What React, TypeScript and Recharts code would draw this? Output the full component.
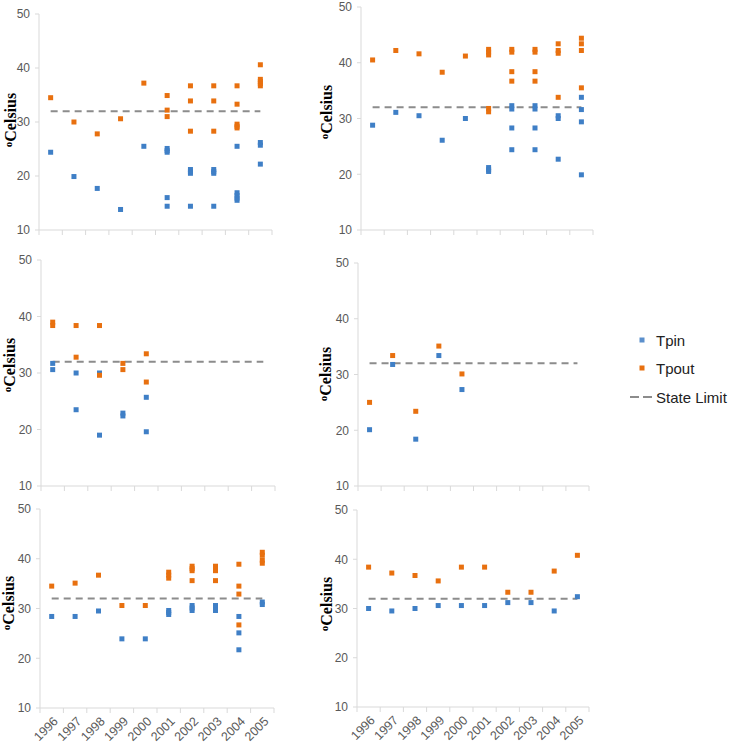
import React from 'react'
import { ScatterChart, Scatter, XAxis, YAxis, ReferenceLine } from 'recharts'

const years = ['1996', '1997', '1998', '1999', '2000', '2001', '2002', '2003', '2004', '2005']
const stateLimit = 32
const yTicks = [10, 20, 30, 40, 50]
const xTicks = [0, 1, 2, 3, 4, 5, 6, 7, 8, 9, 10]

// values per year, several readings per year where the markers stack up
const p1Tpin = [[24.4], [19.9], [17.7], [13.8], [25.5], [25.1, 24.7, 24.4, 16.0, 14.4], [21.2, 20.8, 20.5, 14.4], [21.2, 20.8, 20.5, 14.4], [25.5, 16.9, 16.4, 15.9, 15.5], [26.2, 25.7, 22.2]]
const p1Tpout = [[34.5], [30.0], [27.8], [30.6], [37.2], [34.9, 32.2, 31.0], [36.7, 33.9, 28.3], [36.7, 33.9, 28.3], [36.7, 33.3, 29.6, 29.2, 28.9], [40.6, 37.9, 37.5, 37.1, 36.7]]

const p2Tpin = [[28.8], [31.1], [30.5], [26.1], [30.0], [21.2, 20.8, 20.5], [32.3, 31.7, 28.3, 24.4], [32.3, 31.7, 28.3, 24.4], [30.5, 30.0, 22.7], [33.8, 31.6, 29.4, 19.9]]
const p2Tpout = [[40.5], [42.2], [41.6], [38.3], [41.2], [42.4, 41.9, 41.4, 31.8, 31.2], [42.4, 41.9, 38.4, 36.7], [42.4, 41.9, 38.4, 36.7], [43.4, 42.2, 41.7, 33.8], [44.4, 43.4, 42.2, 35.5]]

const p3Tpin = [[31.7, 30.6], [30.0, 23.5], [30.0, 19.0], [22.9, 22.4], [25.7, 19.6], [], [], [], [], []]
const p3Tpout = [[39.0, 38.4], [38.4, 32.8], [38.4, 29.6], [31.7, 30.6], [33.4, 28.4], [], [], [], [], []]

const p4Tpin = [[20.1], [31.8], [18.4], [33.4], [27.3], [], [], [], [], []]
const p4Tpout = [[25.0], [33.4], [23.4], [35.1], [30.1], [], [], [], [], []]

const p5Tpin = [[28.4], [28.4], [29.5], [23.9], [23.9], [29.6, 29.2, 28.8], [30.6, 30.1, 29.6], [30.6, 30.1, 29.6], [28.4, 25.1, 21.7], [31.3, 30.8]]
const p5Tpout = [[34.5], [35.1], [36.7], [30.6], [30.6], [37.3, 36.7, 36.1], [38.5, 38.0, 37.6, 35.6], [38.5, 38.0, 37.6, 35.6], [38.9, 34.5, 32.9, 26.7], [41.3, 40.7, 39.7, 39.1]]

const p6Tpin = [[30.0], [29.5], [30.0], [30.6], [30.6], [30.6], [31.2], [31.2], [29.5], [32.4]]
const p6Tpout = [[38.4], [37.2], [36.7], [35.6], [38.4], [38.4], [33.3], [33.3], [37.6], [40.8]]

const BLUE = '#3F7FC6'
const ORANGE = '#E8700F'
const GRID = '#D9D9D9'
const TICK = '#595959'

const toPoints = (vals: number[][]) => vals.flatMap((v, i) => v.map((y) => ({ x: i + 0.5, y })))

const square = (color: string) => (props: any) => (
  <rect x={props.cx - 2.5} y={props.cy - 2.5} width={5} height={5} fill={color} />
)

type PanelProps = {
  tpin: number[][]
  tpout: number[][]
  box: [number, number, number, number]
  titleX: number
  titleY: number
  showYears: boolean
}

function Panel({ tpin, tpout, box, titleX, titleY, showYears }: PanelProps) {
  const [l, r, t, b] = box
  const yw = 40
  const mt = 10
  const mr = 10
  const xh = showYears ? 45 : 8
  const band = (r - l) / 10

  const yearTick = (props: any) => {
    const { x, y, payload } = props
    const i = payload.value
    if (!showYears || i >= years.length) return <g />
    const ax = x + band / 2 + 4
    const ay = y + 4
    return (
      <text x={ax} y={ay} dy="0.35em" textAnchor="end" fill={TICK} fontSize={12.5}
        fontFamily="Liberation Sans" transform={`rotate(-45, ${ax}, ${ay})`}>
        {years[i]}
      </text>
    )
  }

  return (
    <>
      <div style={{ position: 'absolute', left: l - yw, top: t - mt }}>
        <ScatterChart width={r - l + yw + mr} height={b - t + mt + xh} margin={{ top: mt, right: mr, bottom: 0, left: 0 }}>
          <XAxis type="number" dataKey="x" domain={[0, 10]} ticks={xTicks} interval={0} height={xh}
            axisLine={{ stroke: GRID }} tickLine={{ stroke: GRID }} tickSize={5} tick={yearTick} />
          <YAxis type="number" dataKey="y" domain={[10, 50]} ticks={yTicks} interval={0} width={yw}
            axisLine={{ stroke: GRID }} tickLine={{ stroke: GRID }} tickSize={4} tickMargin={5}
            tick={{ fill: TICK, fontSize: 12, fontFamily: 'Liberation Sans' }} />
          <ReferenceLine segment={[{ x: 0.5, y: stateLimit }, { x: 9.5, y: stateLimit }]}
            stroke="#8C8C8C" strokeWidth={2} strokeDasharray="7 5" />
          <Scatter data={toPoints(tpin)} shape={square(BLUE)} isAnimationActive={false} />
          <Scatter data={toPoints(tpout)} shape={square(ORANGE)} isAnimationActive={false} />
        </ScatterChart>
      </div>
      <div style={{
        position: 'absolute', left: titleX, top: titleY, transform: 'translate(-50%, -50%) rotate(-90deg)',
        fontFamily: 'Liberation Serif', fontWeight: 'bold', fontSize: 16, whiteSpace: 'nowrap', color: '#000',
      }}>
        <span style={{ fontSize: 11, verticalAlign: '0.35em' }}>o</span>Celsius
      </div>
    </>
  )
}

function Legend() {
  return (
    <svg style={{ position: 'absolute', left: 620, top: 325 }} width={118} height={85}>
      <rect x={19.5} y={12.5} width={5} height={5} fill="#5B8FCC" />
      <text x={36} y={20.5} fontSize={15} fontFamily="Liberation Sans" fill="#222">Tpin</text>
      <rect x={19.5} y={40.5} width={5} height={5} fill={ORANGE} />
      <text x={36} y={48.5} fontSize={15} fontFamily="Liberation Sans" fill="#222">Tpout</text>
      <line x1={10} x2={34} y1={72} y2={72} stroke="#8C8C8C" strokeWidth={2} strokeDasharray="9 4" />
      <text x={36} y={77.5} fontSize={15} fontFamily="Liberation Sans" fill="#222">State Limit</text>
    </svg>
  )
}

export default function App() {
  return (
    <div style={{ position: 'absolute', left: 0, top: 0, width: 738, height: 744, background: '#fff' }}>
      <Panel tpin={p1Tpin} tpout={p1Tpout} box={[39, 272, 14, 230]} titleX={11} titleY={120} showYears={false} />
      <Panel tpin={p2Tpin} tpout={p2Tpout} box={[361, 593, 7, 230]} titleX={327} titleY={112} showYears={false} />
      <Panel tpin={p3Tpin} tpout={p3Tpout} box={[41, 275, 260, 486]} titleX={10} titleY={365} showYears={false} />
      <Panel tpin={p4Tpin} tpout={p4Tpout} box={[358, 589, 263, 486]} titleX={326} titleY={374} showYears={false} />
      <Panel tpin={p5Tpin} tpout={p5Tpout} box={[40, 274, 509, 708]} titleX={9} titleY={603} showYears={true} />
      <Panel tpin={p6Tpin} tpout={p6Tpout} box={[357, 589, 510, 707]} titleX={327} titleY={604} showYears={true} />
      <Legend />
    </div>
  )
}
